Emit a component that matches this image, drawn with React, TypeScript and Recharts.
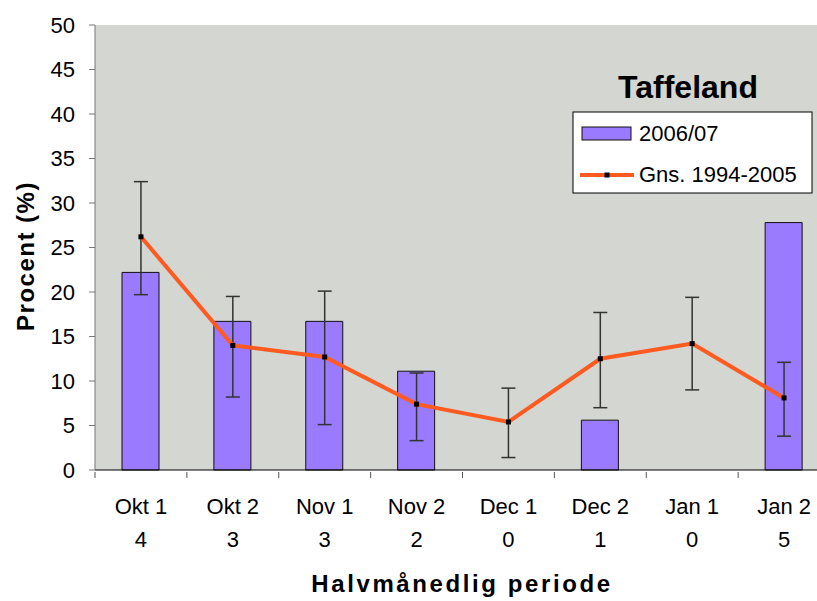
import { Bar, CartesianGrid, ComposedChart, ErrorBar, Line, XAxis, YAxis } from 'recharts'

const categories = ['Okt 1', 'Okt 2', 'Nov 1', 'Nov 2', 'Dec 1', 'Dec 2', 'Jan 1', 'Jan 2']
const counts = [4, 3, 3, 2, 0, 1, 0, 5]
const season = [22.2, 16.7, 16.7, 11.1, 0, 5.6, 0, 27.8]
const average = [26.2, 14.0, 12.7, 7.4, 5.4, 12.5, 14.2, 8.1]
const errDown = [6.5, 5.8, 7.6, 4.1, 4.0, 5.5, 5.2, 4.3]
const errUp = [6.2, 5.5, 7.4, 3.5, 3.8, 5.2, 5.2, 4.0]
const yTicks = [0, 5, 10, 15, 20, 25, 30, 35, 40, 45, 50]

const W = 817
const H = 601
// the plot runs past the right edge of the picture
const CHART_W = 830
const AXIS_W = 95
const FONT = 'Liberation Sans, Arial, sans-serif'

const data = categories.map((c, i) => ({
    name: c,
    count: counts[i],
    season: season[i],
    average: average[i],
    err: [errDown[i], errUp[i]]
}))

const bandW = (CHART_W - AXIS_W) / categories.length

const XTick = (props) => {
    const { x, y, payload, index } = props
    const left = x - bandW / 2
    return (
        <g>
            <line x1={left} y1={y} x2={left} y2={y + 6} stroke="#555" />
            <text x={x} y={y + 42} textAnchor="middle" fontSize={22} fontFamily={FONT} fill="#000">{payload.value}</text>
            <text x={x} y={y + 75} textAnchor="middle" fontSize={22} fontFamily={FONT} fill="#000">{counts[index]}</text>
        </g>
    )
}

const SquareDot = (props) => {
    const { cx, cy } = props
    return <rect x={cx - 2.5} y={cy - 2.5} width={5} height={5} fill="#000" />
}

export default function App() {
    return (
        <div style={{ position: 'absolute', left: 0, top: 0, width: W, height: H, background: '#fff', overflow: 'hidden' }}>
            <ComposedChart
                width={CHART_W}
                height={H}
                data={data}
                margin={{ top: 25, right: 0, left: 0, bottom: 0 }}>
                <CartesianGrid fill="#D4D6D1" stroke="none" horizontal={false} vertical={false} />
                <XAxis dataKey="name" height={131} tickSize={0} tickLine={false} stroke="#000"
                       tick={<XTick />} interval={0} />
                <YAxis width={AXIS_W} domain={[0, 50]} ticks={yTicks} tickSize={6} tickMargin={14}
                       stroke="#777" tick={{ fill: '#000', fontSize: 22, fontFamily: FONT }} />
                <Bar dataKey="season" fill="#9A7BFF" stroke="#111" strokeWidth={1} barSize={37}
                     isAnimationActive={false} />
                <Line dataKey="average" stroke="#FF5A1F" strokeWidth={4} dot={<SquareDot />}
                      activeDot={false} isAnimationActive={false}>
                    <ErrorBar dataKey="err" width={7} stroke="#333" strokeWidth={1.5} direction="y"
                              isAnimationActive={false} />
                </Line>
            </ComposedChart>
            <svg width={W} height={H} style={{ position: 'absolute', left: 0, top: 0, pointerEvents: 'none' }}>
                <text x={688} y={98} textAnchor="middle" fontSize={32} fontWeight="bold" fontFamily={FONT}>Taffeland</text>
                <rect x={573} y={112} width={239} height={81} fill="#fff" stroke="#000" />
                <rect x={582} y={127} width={49} height={13} fill="#9A7BFF" stroke="#111" />
                <text x={639} y={141} fontSize={22} fontFamily={FONT}>2006/07</text>
                <line x1={580} y1={175} x2={634} y2={175} stroke="#FF5A1F" strokeWidth={4} />
                <rect x={604.5} y={172.5} width={5} height={5} fill="#000" />
                <text x={639} y={182} fontSize={22} fontFamily={FONT}>Gns. 1994-2005</text>
                <text x={34} y={256} transform="rotate(-90 34 256)" textAnchor="middle" fontSize={24}
                      fontWeight="bold" fontFamily={FONT} letterSpacing={1.5}>Procent (%)</text>
                <text x={462} y={592} textAnchor="middle" fontSize={24} fontWeight="bold" fontFamily={FONT}
                      letterSpacing={2.6}>Halvmånedlig periode</text>
            </svg>
        </div>
    )
}
